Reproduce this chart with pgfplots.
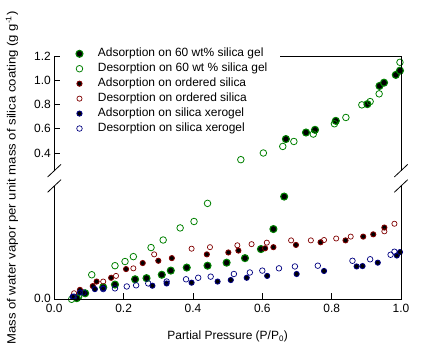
\documentclass[border=0pt]{standalone}
\usepackage{fontspec}
\setmainfont{Liberation Sans}
\usepackage{pgfplots}
\pgfplotsset{compat=1.18}
\definecolor{cgreen}{RGB}{0,128,0}
\definecolor{cred}{RGB}{128,0,0}
\definecolor{cnavy}{RGB}{0,0,128}
\newcommand{\ff}{\fontsize{12}{14}\selectfont}
\pgfplotsset{
  A60/.style={only marks, mark=*, mark size=3.5, mark options={fill=black, draw=cgreen, line width=1.1pt}},
  D60/.style={only marks, mark=o, mark size=3.3, mark options={draw=cgreen, line width=0.8pt}},
  Aord/.style={only marks, mark=*, mark size=2.6, mark options={fill=black, draw=cred, line width=0.9pt}},
  Dord/.style={only marks, mark=o, mark size=2.6, mark options={draw=cred, line width=0.7pt}},
  Axer/.style={only marks, mark=*, mark size=2.6, mark options={fill=black, draw=cnavy, line width=0.9pt}},
  Dxer/.style={only marks, mark=o, mark size=2.8, mark options={draw=cnavy, line width=0.7pt}},
  base/.style={scale only axis, width=346.7bp, xmin=0, xmax=1,
    axis line style={draw=none}, clip=false,
    tick align=inside, major tick length=6bp, tick style={black, line width=0.8bp},
    xtick pos=bottom, ytick pos=left,
    tick label style={font=\ff},
    label style={font=\ff},
    /pgf/number format/assume math mode=true,
    /pgf/number format/fixed, /pgf/number format/fixed zerofill, /pgf/number format/precision=1},
}
\begin{document}
\begin{tikzpicture}[x=1bp,y=1bp]
\useasboundingbox (0,0) rectangle (423,356);
% bottom panel
\begin{axis}[base, at={(54.3bp,56.7bp)}, anchor=south west, height=113.3bp,
  ymin=0, ymax=0.3, ytick={0}, yticklabels={0.0},
  yticklabel style={yshift=1bp},
  xtick={0,0.2,0.4,0.6,0.8,1.0},
  xticklabel style={yshift=-1.5bp},
  xlabel={Partial Pressure (P/P\textsubscript{0})},
  xlabel style={at={(axis description cs:0.5,0)}, anchor=north, yshift=-28bp}]
\addplot[A60] coordinates {(0.065,0.003)(0.089,0.016)(0.141,0.032)(0.175,0.039)(0.233,0.053)(0.266,0.056)(0.310,0.065)(0.336,0.076)(0.382,0.084)(0.442,0.089)(0.497,0.097)(0.550,0.109)(0.596,0.133)(0.632,0.186)(0.663,0.272)};
\addplot[D60] coordinates {(0.050,0.000)(0.070,0.006)(0.108,0.065)(0.175,0.089)(0.204,0.100)(0.228,0.113)(0.279,0.137)(0.314,0.157)(0.363,0.189)(0.403,0.206)(0.442,0.254)};
\addplot[Aord] coordinates {(0.074,0.025)(0.111,0.035)(0.122,0.047)(0.164,0.057)(0.207,0.080)(0.255,0.096)(0.300,0.102)(0.339,0.109)(0.440,0.119)(0.502,0.124)(0.531,0.129)(0.608,0.135)(0.632,0.138)(0.697,0.144)(0.768,0.151)(0.840,0.156)(0.891,0.166)(0.920,0.172)(0.952,0.190)};
\addplot[Dord] coordinates {(0.057,0.016)(0.141,0.047)(0.178,0.062)(0.228,0.082)(0.288,0.119)(0.396,0.134)(0.449,0.138)(0.528,0.143)(0.569,0.146)(0.613,0.150)(0.683,0.156)(0.740,0.156)(0.778,0.157)(0.813,0.161)(0.855,0.166)(0.952,0.180)(0.981,0.200)};
\addplot[Axer] coordinates {(0.053,0.007)(0.074,0.018)(0.117,0.027)(0.141,0.029)(0.283,0.036)(0.324,0.042)(0.396,0.044)(0.471,0.047)(0.509,0.051)(0.555,0.057)(0.614,0.062)(0.699,0.067)(0.778,0.075)(0.872,0.087)(0.889,0.088)(0.933,0.097)(0.988,0.116)(0.997,0.125)};
\addplot[Dxer] coordinates {(0.057,0.007)(0.084,0.018)(0.141,0.027)(0.175,0.029)(0.209,0.034)(0.236,0.037)(0.271,0.042)(0.324,0.047)(0.380,0.053)(0.415,0.057)(0.451,0.060)(0.518,0.067)(0.564,0.071)(0.600,0.076)(0.648,0.082)(0.694,0.087)(0.760,0.089)(0.860,0.102)(0.911,0.106)(0.970,0.118)(0.981,0.126)};
\end{axis}
% top panel
\begin{axis}[base, at={(54.3bp,185.3bp)}, anchor=south west, height=114.7bp,
  ymin=0.254, ymax=1.2, ytick={0.4,0.6,0.8,1.0,1.2}, xtick=\empty,
  legend style={at={(0.062,1.073)}, anchor=north west, fill=white, draw=none,
    inner sep=0pt, font=\ff, column sep=15bp, row sep=3pt,
    nodes={inner sep=0pt, text height=9pt, text depth=3pt}},
  legend cell align=left]
\addplot[A60] coordinates {(0.668,0.515)(0.726,0.569)(0.752,0.591)(0.812,0.665)(0.903,0.803)(0.938,0.953)(0.951,0.980)(0.985,1.044)(0.997,1.079)};
\addplot[D60] coordinates {(0.538,0.345)(0.603,0.400)(0.659,0.454)(0.691,0.495)(0.747,0.556)(0.808,0.641)(0.841,0.693)(0.887,0.797)(0.911,0.824)(0.937,0.888)(0.997,1.148)};
\addlegendimage{Aord}
\addlegendimage{Dord}
\addlegendimage{Axer}
\addlegendimage{Dxer}
\legend{Adsorption on 60 wt\% silica gel, Desorption on 60 wt \% silica gel, Adsorption on ordered silica, Desorption on ordered silica, Adsorption on silica xerogel, Desorption on silica xerogel}
\end{axis}
% frame lines
\draw[line width=0.8bp] (54.3,185.3) -- (54.3,300);
\draw[line width=0.8bp] (280,300) -- (401,300) -- (401,185.3);
\draw[line width=0.8bp] (54.3,170) -- (54.3,56.7) -- (401,56.7) -- (401,170);
% break marks
\foreach \xx in {54.3,401} {
  \draw[line width=0.8bp] (\xx-6.7,185.3-6.3) -- (\xx+6.7,185.3+6.3);
  \draw[line width=0.8bp] (\xx-6.7,170-6.3) -- (\xx+6.7,170+6.3);
}
\node[rotate=90, font=\ff] at (12,178) {\scalebox{1.1}[1]{Mass of water vapor per unit mass of silica coating (g g\textsuperscript{-1})}};
\end{tikzpicture}
\end{document}
